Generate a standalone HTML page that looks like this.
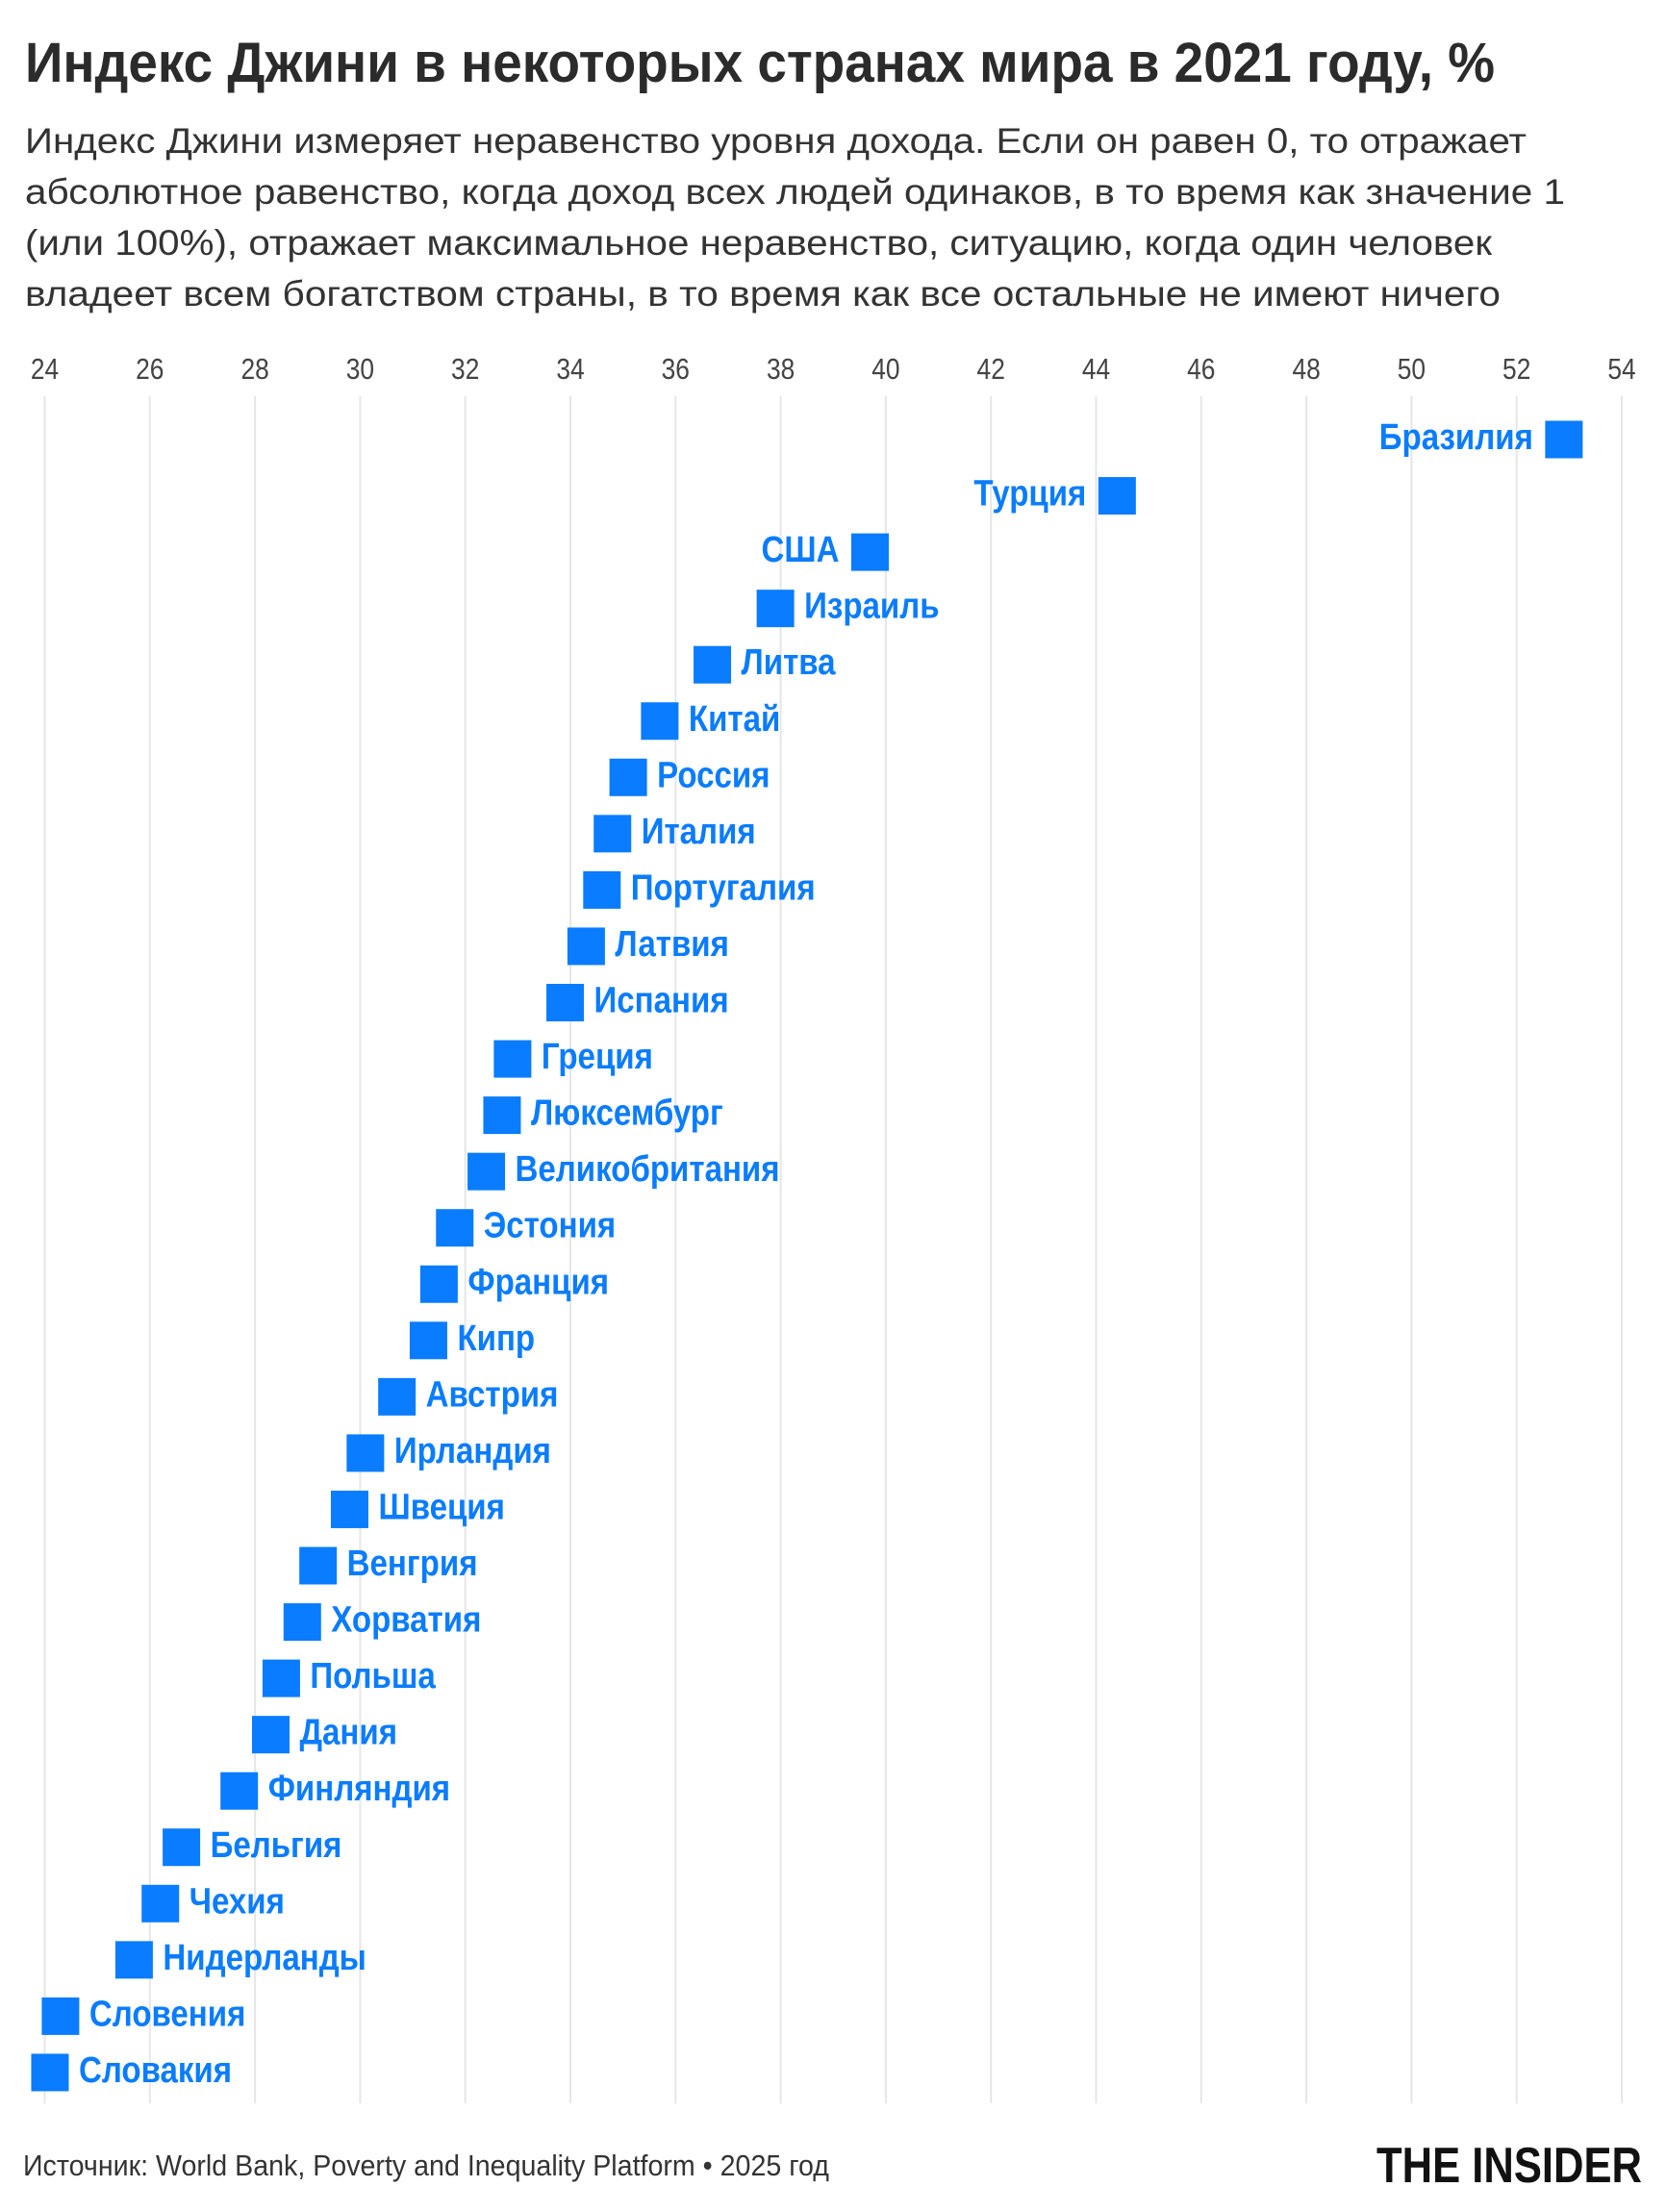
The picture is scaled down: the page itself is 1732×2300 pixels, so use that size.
<!DOCTYPE html>
<html><head><meta charset="utf-8"><style>
html,body{margin:0;padding:0;background:#fff;}
svg{display:block;}
text{font-family:"Liberation Sans Narrow","Liberation Sans",sans-serif;}
</style></head><body>
<svg width="1732" height="2300" viewBox="0 0 1732 2300" xmlns="http://www.w3.org/2000/svg">
<rect width="1732" height="2300" fill="#fff"/>
<text x="26" y="85" font-size="58" font-weight="bold" fill="#2b2b2b" textLength="1528" lengthAdjust="spacingAndGlyphs">Индекс Джини в некоторых странах мира в 2021 году, %</text>
<g font-size="37" fill="#333">
<text x="26" y="159" textLength="1561" lengthAdjust="spacingAndGlyphs">Индекс Джини измеряет неравенство уровня дохода. Если он равен 0, то отражает</text>
<text x="26" y="212" textLength="1601" lengthAdjust="spacingAndGlyphs">абсолютное равенство, когда доход всех людей одинаков, в то время как значение 1</text>
<text x="26" y="265" textLength="1525" lengthAdjust="spacingAndGlyphs">(или 100%), отражает максимальное неравенство, ситуацию, когда один человек</text>
<text x="26" y="318" textLength="1534" lengthAdjust="spacingAndGlyphs">владеет всем богатством страны, в то время как все остальные не имеют ничего</text>
</g>
<g id="grid" stroke="#e6e6e6" stroke-width="2"></g>
<g id="ticks" font-size="31" fill="#444" text-anchor="middle"></g>
<g id="pts"></g>
<text x="24" y="2262" font-size="31" fill="#333" textLength="838" lengthAdjust="spacingAndGlyphs">Источник: World Bank, Poverty and Inequality Platform • 2025 год</text>
<text x="1431" y="2269" font-size="52" font-weight="bold" fill="#111" textLength="276" lengthAdjust="spacingAndGlyphs">THE INSIDER</text>
<script>
var ns="http://www.w3.org/2000/svg";
function X(v){return 46.5+(v-24)*54.65;}
function squeeze(el,f){var w=el.getComputedTextLength();el.setAttribute("textLength",w*f);el.setAttribute("lengthAdjust","spacingAndGlyphs");}
var g=document.getElementById("grid"),t=document.getElementById("ticks"),p=document.getElementById("pts");
for(var v=24;v<=54;v+=2){
 var l=document.createElementNS(ns,"line");l.setAttribute("x1",X(v));l.setAttribute("x2",X(v));l.setAttribute("y1",412);l.setAttribute("y2",2187);g.appendChild(l);
 var tx=document.createElementNS(ns,"text");tx.setAttribute("x",X(v));tx.setAttribute("y",394);tx.textContent=v;t.appendChild(tx);squeeze(tx,0.85);
}
var d=[["Бразилия",52.9,1],["Турция",44.4,1],["США",39.7,1],["Израиль",37.9],["Литва",36.7],["Китай",35.7],["Россия",35.1],["Италия",34.8],["Португалия",34.6],["Латвия",34.3],["Испания",33.9],["Греция",32.9],["Люксембург",32.7],["Великобритания",32.4],["Эстония",31.8],["Франция",31.5],["Кипр",31.3],["Австрия",30.7],["Ирландия",30.1],["Швеция",29.8],["Венгрия",29.2],["Хорватия",28.9],["Польша",28.5],["Дания",28.3],["Финляндия",27.7],["Бельгия",26.6],["Чехия",26.2],["Нидерланды",25.7],["Словения",24.3],["Словакия",24.1]];
d.forEach(function(r,i){
 var cy=457+i*58.55,cx=X(r[1]);
 var s=document.createElementNS(ns,"rect");s.setAttribute("x",cx-19.5);s.setAttribute("y",cy-19.5);s.setAttribute("width",39);s.setAttribute("height",39);s.setAttribute("fill","#0a7cff");p.appendChild(s);
 var tx=document.createElementNS(ns,"text");tx.setAttribute("y",cy+10);tx.setAttribute("font-size","38");tx.setAttribute("font-weight","bold");tx.setAttribute("fill","#0a7cff");
 if(r[2]){tx.setAttribute("x",cx-32);tx.setAttribute("text-anchor","end");}else{tx.setAttribute("x",cx+30);}
 tx.textContent=r[0];p.appendChild(tx);squeeze(tx,0.87);
});
</script>
</svg>
</body></html>
